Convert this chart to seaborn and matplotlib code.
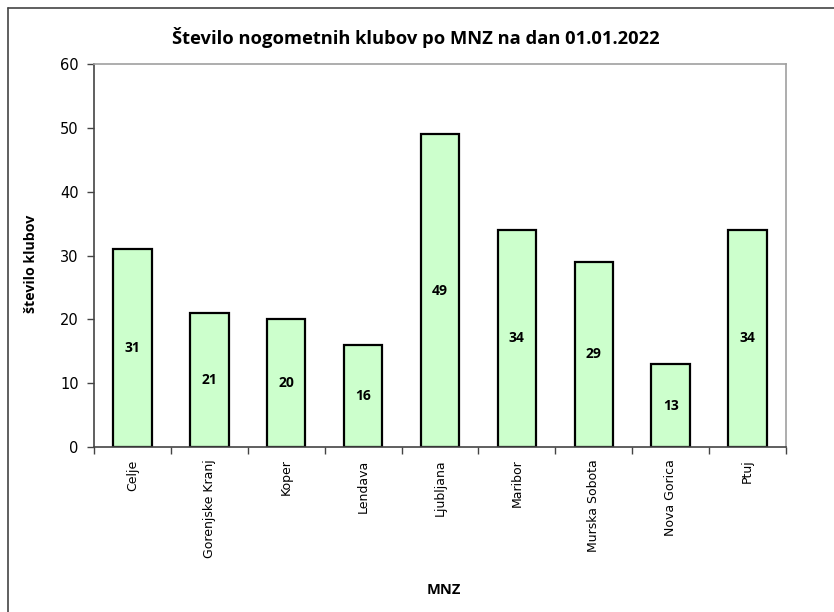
import matplotlib
matplotlib.use("Agg")
import matplotlib.pyplot as plt
import seaborn as sns
import pandas as pd
from matplotlib.lines import Line2D

categories = ["Celje", "Gorenjske Kranj", "Koper", "Lendava", "Ljubljana",
              "Maribor", "Murska Sobota", "Nova Gorica", "Ptuj"]
values = [31, 21, 20, 16, 49, 34, 29, 13, 34]
yticks = [0, 10, 20, 30, 40, 50, 60]
title = "Število nogometnih klubov po MNZ na dan 01.01.2022"
xlabel = "MNZ"
ylabel = "število klubov"

df = pd.DataFrame({"MNZ": categories, "klubi": values})

sns.set_style("white")
plt.rcParams['font.family'] = ['DejaVu Sans']

W, H = 834, 612
fig = plt.figure(figsize=(W / 100, H / 100), dpi=100)
left, right, top, bottom = 94, 786, 64, 447
ax = fig.add_axes([left / W, 1 - bottom / H, (right - left) / W, (bottom - top) / H])

sns.barplot(data=df, x="MNZ", y="klubi", ax=ax, color="#CCFFCC", width=0.5,
            edgecolor="black", linewidth=1.6, saturation=1)

ax.set_ylim(0, 60)
ax.set_xlim(-0.5, len(categories) - 0.5)
ax.set_yticks(yticks)
ax.tick_params(axis="y", direction="out", length=5, width=1, color="#444444",
               labelcolor="black", labelsize=10.5, pad=6, left=True)
ax.set_xticks(range(len(categories)))
ax.set_xticklabels(categories, rotation=90, fontsize=9)
ax.tick_params(axis="x", length=0, pad=9, labelcolor="black")
# minor ticks between categories
ax.set_xticks([i - 0.5 for i in range(len(categories) + 1)], minor=True)
ax.tick_params(axis="x", which="minor", direction="out", length=5, width=1, color="#444444", bottom=True)

for s in ["top", "right"]:
    ax.spines[s].set_color("#A0A0A0")
    ax.spines[s].set_linewidth(1.2)
for s in ["left", "bottom"]:
    ax.spines[s].set_color("#444444")
    ax.spines[s].set_linewidth(1.2)

for c in ax.containers:
    ax.bar_label(c, labels=[str(v) for v in values], label_type="center",
                 fontsize=10, fontweight="bold", family="Open Sans", color="black")

ax.set_xlabel("")
ax.set_ylabel("")
fig.text(416 / W, 1 - 38 / H, title, ha="center", va="center",
         fontsize=13.2, fontweight="bold", family="Open Sans", color="black")
fig.text(444 / W, 1 - 590 / H, xlabel, ha="center", va="center",
         fontsize=10.5, fontweight="bold", family="Open Sans", color="black")
fig.text(31 / W, 1 - 264 / H, ylabel, ha="center", va="center", rotation=90,
         fontsize=10.2, fontweight="bold", family="Open Sans", color="black")

# outer chart frame (top and left edges visible)
fig.add_artist(Line2D([8 / W, 1], [1 - 8 / H, 1 - 8 / H], transform=fig.transFigure,
                      color="#444444", linewidth=1.2))
fig.add_artist(Line2D([8 / W, 8 / W], [0, 1 - 8 / H], transform=fig.transFigure,
                      color="#444444", linewidth=1.2))

fig.savefig("out.png", dpi=100)
